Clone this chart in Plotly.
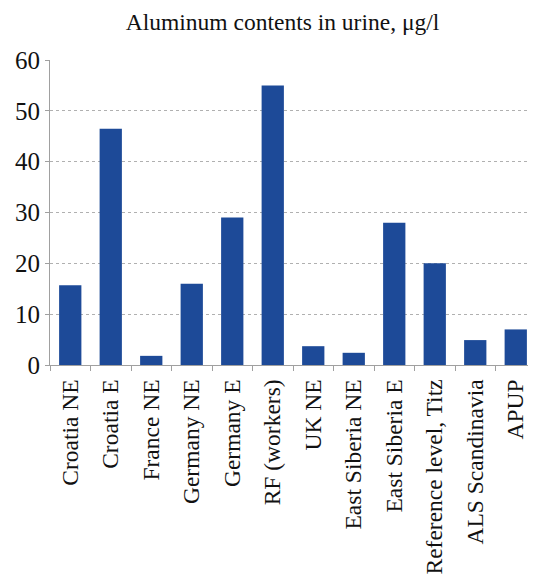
import plotly.graph_objects as go

categories = ["Croatia NE", "Croatia E", "France NE", "Germany NE", "Germany E",
              "RF (workers)", "UK NE", "East Siberia NE", "East Siberia E",
              "Reference level, Titz", "ALS Scandinavia", "APUP"]
values = [15.7, 46.5, 1.8, 16.0, 29.0, 55.0, 3.7, 2.4, 28.0, 20.0, 4.9, 7.0]
y_ticks = [0, 10, 20, 30, 40, 50, 60]

fig = go.Figure(go.Bar(
    x=categories, y=values,
    marker=dict(color="#1d4a98", line=dict(width=0)),
    width=0.55,
))

font = "Liberation Serif, Times New Roman, serif"
fig.update_layout(
    width=528, height=572,
    margin=dict(l=42, r=0, t=52, b=215, autoexpand=False),
    paper_bgcolor="white", plot_bgcolor="white",
    title=dict(text="Aluminum contents in urine, μg/l", x=0.52, xanchor="center",
               y=0.99, yanchor="top", font=dict(family=font, size=23.5, color="#111")),
    font=dict(family=font, color="#111"),
    showlegend=False,
)
fig.update_yaxes(range=[0, 60], tickvals=y_ticks, tickfont=dict(size=25, family=font, color="#111"),
                 showgrid=True, gridcolor="#b0b0b0", griddash="dot", gridwidth=1,
                 showline=True, linecolor="#a0a0a0", linewidth=1, automargin=False,
                 ticks="outside", ticklen=4, tickcolor="#a0a0a0", zeroline=False)
fig.update_xaxes(tickangle=-90, tickfont=dict(size=23.5, family=font, color="#111"),
                 showline=True, linecolor="#a0a0a0", linewidth=1, automargin=False,
                 ticks="outside", ticklen=5, tickcolor="#a0a0a0", tickson="boundaries",
                 ticklabelstandoff=4)
fig.write_html("out.html")
